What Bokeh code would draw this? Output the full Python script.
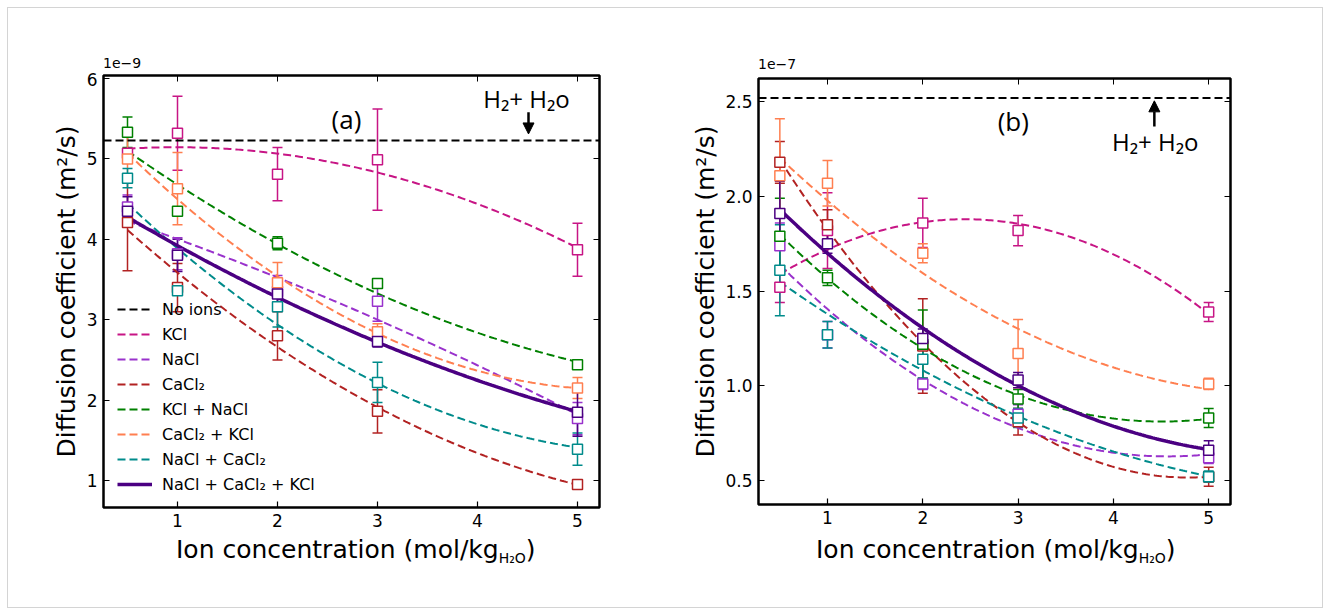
import numpy as np
from bokeh.plotting import figure
from bokeh.layouts import row, column
from bokeh.models import (ColumnDataSource, Whisker, TeeHead, Legend, LegendItem, Label,
                          Arrow, NormalHead, LinearAxis, FixedTicker, Range1d, Div,
                          CustomJSTickFormatter, NumeralTickFormatter, InlineStyleSheet)
from bokeh.embed import file_html
from bokeh.resources import INLINE

# ---------------- data ----------------
CONC = [0.5, 1, 2, 3, 5]
NAMES = ["KCl", "NaCl", "CaCl₂", "KCl + NaCl", "CaCl₂ + KCl", "NaCl + CaCl₂", "NaCl + CaCl₂ + KCl"]
COLORS = ["#c71585", "#9932cc", "#b22222", "#008000", "#ff7f50", "#008b8b", "#4b0082"]

# panel (a): values in units of 1e-9 m^2/s
SCALE_A = "1e−9"
NO_IONS_A = 5.23
KCL_A = [5.07, 5.32, 4.81, 4.99, 3.87]
KCL_A_ERR = [0.05, 0.46, 0.33, 0.63, 0.33]
NACL_A = [4.40, 3.82, 3.35, 3.23, 1.77]
NACL_A_ERR = [0.15, 0.20, 0.20, 0.25, 0.20]
CACL2_A = [4.21, 3.40, 2.80, 1.86, 0.95]
CACL2_A_ERR = [0.60, 0.30, 0.30, 0.27, 0.03]
KCL_NACL_A = [5.33, 4.35, 3.95, 3.45, 2.44]
KCL_NACL_A_ERR = [0.19, 0.05, 0.08, 0.04, 0.04]
CACL2_KCL_A = [5.00, 4.63, 3.46, 2.85, 2.15]
CACL2_KCL_A_ERR = [0.30, 0.45, 0.25, 0.10, 0.13]
NACL_CACL2_A = [4.76, 3.36, 3.16, 2.22, 1.39]
NACL_CACL2_A_ERR = [0.12, 0.05, 0.25, 0.25, 0.20]
ALL_A = [4.35, 3.80, 3.32, 2.73, 1.85]
ALL_A_ERR = [0.18, 0.20, 0.10, 0.07, 0.30]

# panel (b): values in units of 1e-7 m^2/s
SCALE_B = "1e−7"
NO_IONS_B = 2.52
KCL_B = [1.52, 1.82, 1.86, 1.82, 1.39]
KCL_B_ERR = [0.08, 0.20, 0.13, 0.08, 0.05]
NACL_B = [1.74, 1.27, 1.01, 0.85, 0.62]
NACL_B_ERR = [0.12, 0.07, 0.03, 0.05, 0.03]
CACL2_B = [2.18, 1.85, 1.21, 0.81, 0.52]
CACL2_B_ERR = [0.11, 0.08, 0.25, 0.07, 0.05]
KCL_NACL_B = [1.79, 1.57, 1.22, 0.93, 0.83]
KCL_NACL_B_ERR = [0.20, 0.04, 0.18, 0.05, 0.05]
CACL2_KCL_B = [2.11, 2.07, 1.70, 1.17, 1.01]
CACL2_KCL_B_ERR = [0.30, 0.12, 0.05, 0.18, 0.03]
NACL_CACL2_B = [1.61, 1.27, 1.14, 0.83, 0.52]
NACL_CACL2_B_ERR = [0.24, 0.07, 0.10, 0.05, 0.03]
ALL_B = [1.91, 1.75, 1.25, 1.03, 0.66]
ALL_B_ERR = [0.17, 0.05, 0.05, 0.04, 0.05]

XTICKS = [1, 2, 3, 4, 5]
YTICKS_A = [1, 2, 3, 4, 5, 6]
YTICKS_B = [0.5, 1.0, 1.5, 2.0, 2.5]

SERIES_A = [(KCL_A, KCL_A_ERR), (NACL_A, NACL_A_ERR), (CACL2_A, CACL2_A_ERR),
            (KCL_NACL_A, KCL_NACL_A_ERR), (CACL2_KCL_A, CACL2_KCL_A_ERR),
            (NACL_CACL2_A, NACL_CACL2_A_ERR), (ALL_A, ALL_A_ERR)]
SERIES_B = [(KCL_B, KCL_B_ERR), (NACL_B, NACL_B_ERR), (CACL2_B, CACL2_B_ERR),
            (KCL_NACL_B, KCL_NACL_B_ERR), (CACL2_KCL_B, CACL2_KCL_B_ERR),
            (NACL_CACL2_B, NACL_CACL2_B_ERR), (ALL_B, ALL_B_ERR)]

TICK_FONT = "DejaVu Sans"
ANNOT_FONT = "Open Sans"
TOP_H = 72
FIG_H = 468
BOTTOM_H = 615 - TOP_H - FIG_H


def make_panel(series, no_ions, xr, yr, yticks, yfmt, width, borders, ylabel_standoff):
    left, right, top, bottom = borders
    p = figure(width=width, height=FIG_H, output_backend="svg", toolbar_location=None,
               title=None, x_range=Range1d(*xr), y_range=Range1d(*yr),
               min_border_left=left, min_border_right=right,
               min_border_top=top, min_border_bottom=bottom)
    p.grid.visible = False
    p.outline_line_color = "black"
    p.outline_line_width = 2.5
    p.background_fill_color = "white"
    p.border_fill_color = "white"

    p.xaxis.ticker = FixedTicker(ticks=XTICKS)
    p.yaxis.ticker = FixedTicker(ticks=yticks)
    if yfmt:
        p.yaxis.formatter = NumeralTickFormatter(format=yfmt)
    for ax in (p.xaxis[0], p.yaxis[0]):
        ax.major_tick_in = 6
        ax.major_tick_out = 0
        ax.minor_tick_in = 0
        ax.minor_tick_out = 0
        ax.axis_line_color = None
        ax.major_tick_line_width = 1.2
        ax.major_label_text_font = TICK_FONT
        ax.major_label_text_font_size = "17px"
        ax.major_label_text_color = "black"
        ax.major_label_standoff = 6
    p.yaxis.axis_label = "Diffusion coefficient (m²/s)"
    p.yaxis.axis_label_text_font = TICK_FONT
    p.yaxis.axis_label_text_font_size = "25px"
    p.yaxis.axis_label_text_font_style = "normal"
    p.yaxis.axis_label_text_color = "black"
    p.yaxis.axis_label_standoff = ylabel_standoff

    blank = CustomJSTickFormatter(code="return ''")
    top_ax = LinearAxis(ticker=FixedTicker(ticks=XTICKS), formatter=blank,
                        major_tick_in=6, major_tick_out=0, minor_tick_in=0, minor_tick_out=0,
                        axis_line_color=None, major_label_text_font_size="1px",
                        major_label_standoff=0)
    right_ax = LinearAxis(ticker=FixedTicker(ticks=yticks), formatter=blank,
                          major_tick_in=6, major_tick_out=0, minor_tick_in=0, minor_tick_out=0,
                          axis_line_color=None, major_label_text_font_size="1px",
                          major_label_standoff=0)
    p.add_layout(top_ax, "above")
    p.add_layout(right_ax, "right")

    # no-ion reference line across the frame
    xs_full = np.linspace(xr[0], xr[1], 2)
    r_none = p.line(xs_full, [no_ions] * len(xs_full), line_color="black",
                    line_width=2, line_dash="8 4")

    renderers = [r_none]
    xs = np.linspace(min(CONC), max(CONC), 200)
    for (vals, errs), color in zip(series, COLORS):
        coef = np.polyfit(CONC, vals, 2)
        fit = np.polyval(coef, xs)
        if color == COLORS[-1]:
            r = p.line(xs, fit, line_color=color, line_width=3.5)
        else:
            r = p.line(xs, fit, line_color=color, line_width=2, line_dash="8 4")
        renderers.append(r)

    for (vals, errs), color in zip(series, COLORS):
        v = np.array(vals)
        e = np.array(errs)
        src = ColumnDataSource(dict(x=CONC, y=vals, upper=list(v + e), lower=list(v - e)))
        w = Whisker(source=src, base="x", upper="upper", lower="lower",
                    line_color=color, line_width=1.5,
                    upper_head=TeeHead(size=10, line_color=color, line_width=1.5),
                    lower_head=TeeHead(size=10, line_color=color, line_width=1.5))
        p.add_layout(w)
        p.scatter("x", "y", source=src, marker="square", size=10, fill_color="white",
                  line_color=color, line_width=1.5)
    return p, renderers


def scale_div(width, text, pad_left, pad_top):
    html = ('<div style="font-family:\'DejaVu Sans\';font-size:14px;color:black;'
            'white-space:nowrap;line-height:14px;padding-left:%dpx;padding-top:%dpx;">'
            '%s</div>' % (pad_left, pad_top, text))
    return Div(text=html, width=width, height=TOP_H, margin=(0, 0, 0, 0))


def xlabel_div(width, pad_left):
    html = ('<div style="font-family:\'DejaVu Sans\';font-size:25px;color:black;'
            'white-space:nowrap;line-height:25px;padding-left:%dpx;margin-top:-3px;">'
            'Ion concentration (mol/kg<span style="font-size:14px;position:relative;'
            'top:5px;">H₂O</span>)</div>' % pad_left)
    return Div(text=html, width=width, height=BOTTOM_H, margin=(0, 0, 0, 0))


# ---------------- panel (a) ----------------
pa, rens_a = make_panel(SERIES_A, NO_IONS_A, (0.26, 5.22), (0.664, 6.037), YTICKS_A, None,
                        655, (103, 56, 75 - TOP_H, TOP_H + FIG_H - 507), 3)
legend = Legend(items=[LegendItem(label="No ions", renderers=[rens_a[0]])] +
                [LegendItem(label=n, renderers=[r]) for n, r in zip(NAMES, rens_a[1:])],
                location=(14, 13), background_fill_alpha=0, border_line_color=None,
                label_text_font=TICK_FONT, label_text_font_size="16px",
                label_text_color="black",
                glyph_width=35, glyph_height=20, label_height=20, spacing=5,
                label_standoff=10, padding=0, margin=0)
pa.add_layout(legend)
pa.add_layout(Label(x=2.69, y=5.5, text="(a)", text_font=ANNOT_FONT, text_font_size="26px",
                    text_color="black", text_align="center", text_baseline="middle"))
pa.add_layout(Label(x=4.49, y=5.75, text="H₂+ H₂o", text_font=ANNOT_FONT,
                    text_font_size="24px", text_color="black",
                    text_align="center", text_baseline="middle"))
pa.add_layout(Arrow(x_start=4.51, y_start=5.58, x_end=4.51, y_end=5.31, line_width=2.5,
                    end=NormalHead(size=11, fill_color="black", line_color="black")))

# ---------------- panel (b) ----------------
pb, rens_b = make_panel(SERIES_B, NO_IONS_B, (0.276, 5.229), (0.373, 2.623), YTICKS_B, "0.0",
                        675, (103, 100, 78 - TOP_H, TOP_H + FIG_H - 504), 2)
pb.add_layout(Label(x=2.95, y=2.40, text="(b)", text_font=ANNOT_FONT, text_font_size="26px",
                    text_color="black", text_align="center", text_baseline="middle"))
pb.add_layout(Label(x=4.44, y=2.29, text="H₂+ H₂o", text_font=ANNOT_FONT,
                    text_font_size="24px", text_color="black",
                    text_align="center", text_baseline="middle"))
pb.add_layout(Arrow(x_start=4.43, y_start=2.37, x_end=4.43, y_end=2.505, line_width=2.5,
                    end=NormalHead(size=11, fill_color="black", line_color="black")))

frame_css = InlineStyleSheet(css=(
    ":host::after { content: ''; position: absolute; left: 7px; top: 7px; right: 7px; "
    "bottom: 7px; border: 1px solid #d4d4d4; pointer-events: none; z-index: 100; }"))
layout = row(column(scale_div(655, SCALE_A, 103, 56), pa, xlabel_div(655, 176)),
             column(scale_div(675, SCALE_B, 103, 57), pb, xlabel_div(675, 161)),
             stylesheets=[frame_css])
open("out.html", "w").write(file_html(layout, INLINE))
